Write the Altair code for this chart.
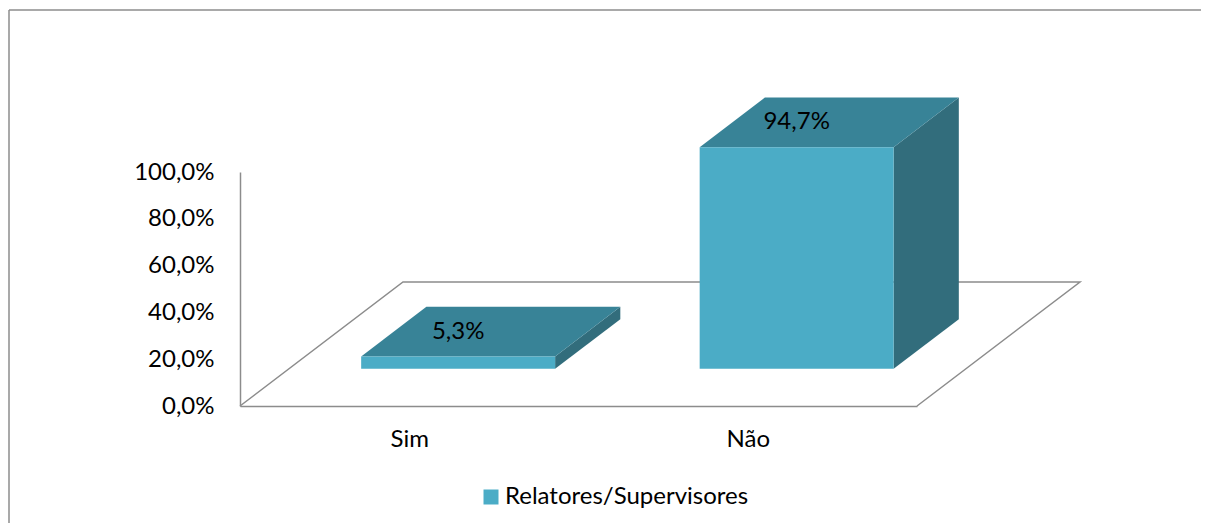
import altair as alt
import pandas as pd

# ---- data ----
categories = ["Sim", "Não"]
values = [5.3, 94.7]
series_name = "Relatores/Supervisores"
y_tick_values = [0.0, 0.2, 0.4, 0.6, 0.8, 1.0]

# ---- style ----
FRONT = "#4BACC6"
TOP = "#388397"
SIDE = "#326D7C"
LINE = "#8C8C8C"
FONT = "Lato"
FS = 24

# 3D projection (depth axis drawn as an oblique offset)
DX = 0.4815   # x units per full floor depth
DY = 0.53     # y units per full floor depth
D0, D1 = 0.3, 0.7   # bar front / back depth
HALF = 0.2865       # half bar width in category units

front, top, side, labels = [], [], [], []
for i, (c, v) in enumerate(zip(categories, values)):
    h = v / 100.0
    cx = i + 0.5
    xl = cx - HALF + D0 * DX
    xr = cx + HALF + D0 * DX
    b0, b1 = D0 * DY, D1 * DY
    ddx = (D1 - D0) * DX
    front.append(dict(cat=c, series=series_name, x=xl, x2=xr, y=b0, y2=b0 + h))
    top += [
        dict(cat=c, x=xl, y=b0 + h, y2=b0 + h),
        dict(cat=c, x=xl + ddx, y=b0 + h, y2=b1 + h),
        dict(cat=c, x=xr, y=b0 + h, y2=b1 + h),
        dict(cat=c, x=xr + ddx, y=b1 + h, y2=b1 + h),
    ]
    side += [
        dict(cat=c, x=xr, y=b0, y2=b0 + h),
        dict(cat=c, x=xr + ddx, y=b1, y2=b1 + h),
    ]
    labels.append(dict(cat=c, x=cx + D0 * DX, y=h + 0.5 * DY,
                       label=f"{v:.1f}".replace(".", ",") + "%"))

n = len(categories)
floor = pd.DataFrame([
    dict(x=0.0, y=0.0, o=0),
    dict(x=DX, y=DY, o=1),
    dict(x=n + DX, y=DY, o=2),
    dict(x=float(n), y=0.0, o=3),
])

df_front = pd.DataFrame(front)
df_top = pd.DataFrame(top)
df_side = pd.DataFrame(side)
df_lab = pd.DataFrame(labels)

cat_js = "[" + ",".join(f"'{c}'" for c in categories) + "]"
xscale = alt.Scale(domain=[0, n], nice=False, zero=False)
yscale = alt.Scale(domain=[0, 1], nice=False, zero=False)
xaxis = alt.Axis(values=[i + 0.5 for i in range(n)], labelExpr=f"{cat_js}[floor(datum.value)]",
                 title=None, grid=False, ticks=False, domainColor=LINE, domainWidth=1.5,
                 labelFont=FONT, labelFontSize=FS, labelColor="black", labelPadding=21)
yaxis = alt.Axis(values=y_tick_values,
                 labelExpr="replace(format(datum.value*100, '.1f'), '.', ',') + '%'",
                 title=None, grid=False, ticks=False, domainColor=LINE, domainWidth=1.5,
                 labelFont=FONT, labelFontSize=FS, labelColor="black", labelPadding=26)

X = lambda: alt.X("x:Q", scale=xscale, axis=xaxis)
Y = lambda: alt.Y("y:Q", scale=yscale, axis=yaxis)

floor_layer = alt.Chart(floor).mark_line(color=LINE, strokeWidth=1.5).encode(
    x=X(), y=Y(), order="o:Q")

side_layer = alt.Chart(df_side).mark_area(color=SIDE, orient="vertical").encode(
    x=X(), y=Y(), y2="y2:Q", detail="cat:N")

top_layer = alt.Chart(df_top).mark_area(color=TOP, orient="vertical").encode(
    x=X(), y=Y(), y2="y2:Q", detail="cat:N")

front_layer = alt.Chart(df_front).mark_rect().encode(
    x=X(), x2="x2:Q", y=Y(), y2="y2:Q",
    color=alt.Color("series:N", scale=alt.Scale(domain=[series_name], range=[FRONT]),
                    legend=alt.Legend(orient="none", legendX=239, legendY=313, title=None,
                                      symbolType="square", symbolSize=225, symbolStrokeWidth=0,
                                      symbolOpacity=1, labelFont=FONT, labelFontSize=FS,
                                      labelColor="black", labelOffset=2, labelLimit=0)))

text_layer = alt.Chart(df_lab).mark_text(font=FONT, fontSize=FS, color="black",
                                         align="center", baseline="middle").encode(
    x=X(), y=Y(), text="label:N")

# outer chart frame (top and left edges; right/bottom lie outside the page)
one = pd.DataFrame([{"k": 1}])
frame_top = alt.Chart(one).mark_rule(color=LINE, strokeWidth=1.5).encode(
    x=alt.value(-231), x2=alt.value(1100), y=alt.value(-162))
frame_left = alt.Chart(one).mark_rule(color=LINE, strokeWidth=1.5).encode(
    x=alt.value(-231), y=alt.value(-162), y2=alt.value(500))

chart = alt.layer(frame_top, frame_left, floor_layer, side_layer, top_layer, front_layer,
                  text_layer).properties(
    width=677, height=234,
    padding={"left": 232, "top": 164, "right": 284, "bottom": 117},
    autosize="none",
    background="white",
).configure_view(stroke=None)

chart.save("out.html", embed_options={"renderer": "svg", "actions": False})
